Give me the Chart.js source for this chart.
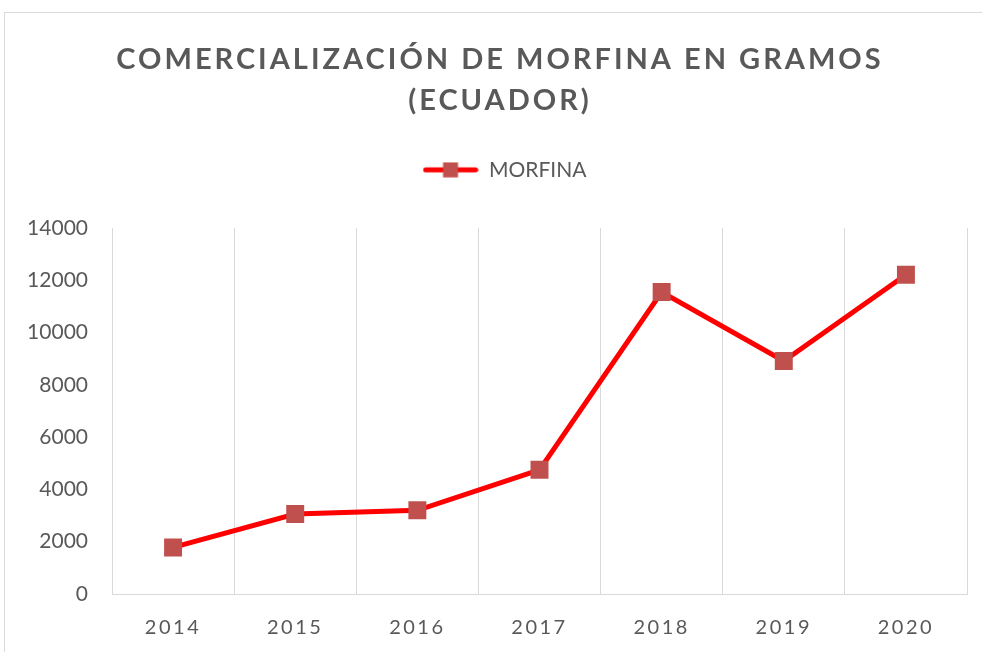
<!DOCTYPE html>
<html>
<head>
<meta charset="utf-8">
<script src="https://cdn.jsdelivr.net/npm/chart.js@4.4.1/dist/chart.umd.min.js"></script>
<style>
  html, body { margin: 0; padding: 0; background: #fff; }
  #wrap { position: relative; width: 982px; height: 652px; overflow: hidden; }
  #frame { position: absolute; left: 4px; top: 12px; width: 1000px; height: 700px; border: 1px solid #d9d9d9; pointer-events: none; }
</style>
</head>
<body>
<div id="wrap">
  <div id="frame"></div>
  <canvas id="chart" width="982" height="652"></canvas>
</div>
<script>
const years = ["2014", "2015", "2016", "2017", "2018", "2019", "2020"];
const morfina = [1780, 3060, 3200, 4750, 11550, 8910, 12210];
const yTicks = [0, 2000, 4000, 6000, 8000, 10000, 12000, 14000];

const textGray = "#595959";
const gridGray = "#d9d9d9";

// legend symbol: red line with a square marker in the middle
const legendIcon = document.createElement("canvas");
legendIcon.width = 56;
legendIcon.height = 16;
(function() {
    const c = legendIcon.getContext("2d");
    c.strokeStyle = "#ff0000";
    c.lineWidth = 5;
    c.lineCap = "round";
    c.beginPath();
    c.moveTo(3, 8);
    c.lineTo(53, 8);
    c.stroke();
    c.fillStyle = "#c0504d";
    c.fillRect(20.5, 0.5, 15, 15);
})();

// letter spacing for title and x labels (canvas letterSpacing)
function spaced(obj, fn, sp) {
    if (!obj || obj["_sp_" + fn]) return;
    const orig = obj[fn];
    obj[fn] = function(...args) {
        const c = this.ctx;
        const old = c.letterSpacing;
        c.letterSpacing = sp;
        orig.apply(this, args);
        c.letterSpacing = old;
    };
    obj["_sp_" + fn] = true;
}
const spacingPlugin = {
    id: "spacing",
    beforeLayout(chart) {
        // extra room under the legend, before the plot
        const lg = chart.legend;
        if (lg && !lg._extra) {
            const fit = lg.fit;
            lg.fit = function() {
                fit.apply(this);
                this.height += 37.6;
            };
            lg._extra = true;
        }
    },
    afterLayout(chart) {
        // title and legend are centred on the whole frame, not the canvas
        chart.titleBlock.left += 16.5;
        chart.titleBlock.right += 16.5;
        chart.legend.left += 21;
        chart.legend.right += 21;
    },
    beforeDraw(chart) {
        spaced(chart.titleBlock, "draw", "3px");
        spaced(chart.scales.x, "drawLabels", "2.5px");
    }
};

new Chart(document.getElementById("chart"), {
    type: "line",
    data: {
        labels: years,
        datasets: [{
            label: "MORFINA",
            data: morfina,
            borderColor: "#ff0000",
            borderWidth: 5,
            backgroundColor: "#c0504d",
            pointStyle: "rect",
            pointRadius: 12.7,
            pointHoverRadius: 12.7,
            pointBackgroundColor: "#c0504d",
            pointBorderColor: "#c0504d",
            pointBorderWidth: 0,
            tension: 0
        }]
    },
    options: {
        responsive: false,
        animation: false,
        devicePixelRatio: 1,
        layout: { autoPadding: false, padding: { left: 0, right: 15, top: 0, bottom: 12 } },
        plugins: {
            title: {
                display: true,
                text: ["COMERCIALIZACIÓN DE MORFINA EN GRAMOS", "(ECUADOR)"],
                color: textGray,
                font: { family: "Lato", size: 29, weight: "bold", lineHeight: 1.42 },
                padding: { top: 39, bottom: 0 }
            },
            legend: {
                display: true,
                labels: {
                    color: textGray,
                    font: { family: "Lato", size: 21 },
                    usePointStyle: true,
                    pointStyleWidth: 56,
                    padding: 38,
                    generateLabels: (chart) => [{
                        text: "MORFINA",
                        pointStyle: legendIcon,
                        fontColor: textGray,
                        datasetIndex: 0,
                        hidden: false,
                        lineWidth: 0
                    }]
                }
            },
            tooltip: { enabled: false }
        },
        scales: {
            x: {
                offset: true,
                afterFit(scale) { scale.height = 46; },
                grid: { display: true, offset: true, color: gridGray, lineWidth: 1, drawTicks: false },
                border: { display: true, color: gridGray, width: 1 },
                ticks: { color: textGray, font: { family: "Lato", size: 20 }, padding: 22 }
            },
            y: {
                min: 0,
                max: 14000,
                afterFit(scale) { scale.width = 112; },
                afterBuildTicks(scale) { scale.ticks = yTicks.map(v => ({ value: v })); },
                grid: { display: false, drawTicks: false },
                border: { display: false },
                ticks: {
                    color: textGray,
                    font: { family: "Lato", size: 21 },
                    padding: 24,
                    callback: (v) => String(v)
                }
            }
        }
    },
    plugins: [spacingPlugin]
});
</script>
</body>
</html>
